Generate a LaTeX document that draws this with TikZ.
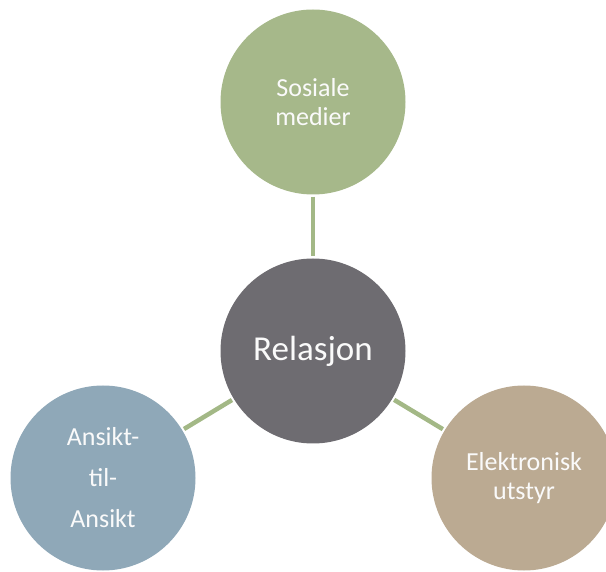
\documentclass[tikz,border=0pt]{standalone}
\usepackage{fontspec}
\setmainfont{Carlito}
\definecolor{mediagreen}{HTML}{A6B88A}
\definecolor{relgrey}{HTML}{6E6C71}
\definecolor{facesblue}{HTML}{8FA8B8}
\definecolor{devicetan}{HTML}{BBAA92}
\definecolor{linkgreen}{HTML}{A3B886}
\begin{document}
\begin{tikzpicture}[x=1pt,y=-1pt,
    bubble/.style={circle,minimum size=185pt,inner sep=0pt,align=center,
      text=white!96!gray,font=\fontsize{26}{29}\selectfont},
    link/.style={draw=linkgreen,line width=4.5pt,shorten <=2pt,shorten >=2pt}]
  \useasboundingbox (0,0) rectangle (606,572);
  \node[bubble,fill=mediagreen] (medier) at (313,102) {Sosiale\\medier};
  \node[bubble,fill=relgrey,font=\fontsize{35}{40}\selectfont] (relasjon) at (313,351) {Relasjon};
  \node[bubble,fill=facesblue,font=\fontsize{26}{41}\selectfont] (ansikt) at (103,478) {Ansikt-\\til-\\Ansikt};
  \node[bubble,fill=devicetan] (utstyr) at (524,478) {Elektronisk\\utstyr};
  \draw[link] (medier) -- (relasjon);
  \draw[link] (ansikt) -- (relasjon);
  \draw[link] (utstyr) -- (relasjon);
\end{tikzpicture}
\end{document}
